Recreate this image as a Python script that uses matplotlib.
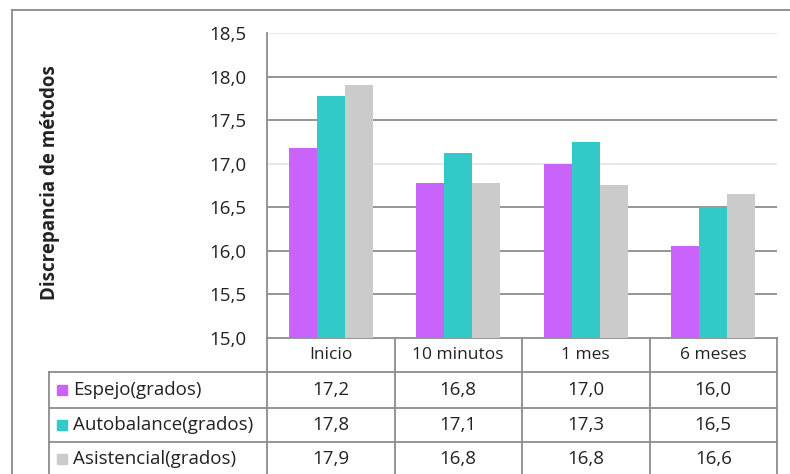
import matplotlib.pyplot as plt
import matplotlib.transforms as mtransforms
from matplotlib.lines import Line2D
from matplotlib.patches import Rectangle
import numpy as np

plt.rcParams['font.family'] = ['Open Sans', 'DejaVu Sans']

# Datos
momentos = ['Inicio', '10 minutos', '1 mes', '6 meses']
series = ['Espejo(grados)', 'Autobalance(grados)', 'Asistencial(grados)']
espejo = [17.18, 16.78, 17.0, 16.05]
autobalance = [17.78, 17.12, 17.25, 16.5]
asistencial = [17.9, 16.78, 16.75, 16.65]
tabla_espejo = ['17,2', '16,8', '17,0', '16,0']
tabla_autobalance = ['17,8', '17,1', '17,3', '16,5']
tabla_asistencial = ['17,9', '16,8', '16,8', '16,6']
yticks = [15.0, 15.5, 16.0, 16.5, 17.0, 17.5, 18.0, 18.5]
ytick_labels = ['15,0', '15,5', '16,0', '16,5', '17,0', '17,5', '18,0', '18,5']

colores = ['#c864fc', '#33c9c9', '#cbcbcb']
W, H = 790, 474
fs = 13.5

fig = plt.figure(figsize=(W / 100, H / 100), dpi=100)
fig.patch.set_facecolor('white')

# marco exterior
fig.add_artist(Line2D([12 / W, 1.0], [1 - 10 / H, 1 - 10 / H], transform=fig.transFigure,
                      color='#8a8a8a', lw=1.3))
fig.add_artist(Line2D([12 / W, 12 / W], [1 - 10 / H, 0], transform=fig.transFigure,
                      color='#8a8a8a', lw=1.3))

ax = fig.add_axes([267 / W, (H - 338) / H, 510 / W, 305 / H])
x = np.arange(len(momentos))
ancho = 0.22
for i, vals in enumerate([espejo, autobalance, asistencial]):
    ax.bar(x + (i - 1) * ancho, [v - 15.0 for v in vals], bottom=15.0, width=ancho,
           color=colores[i], zorder=3)

ax.set_xlim(-0.5, len(momentos) - 0.5)
ax.set_ylim(15.0, 18.5)
ax.set_yticks(yticks)
ax.set_yticklabels(ytick_labels, fontsize=fs, color='#222222')
ax.tick_params(axis='y', length=0, pad=15)
ax.set_xticks([])
for yv in yticks[1:]:
    c = '#e6e6e6' if yv in (17.0, 18.5) else '#8c8c8c'
    ax.axhline(yv, color=c, lw=1.3, zorder=1)
for s in ['top', 'right']:
    ax.spines[s].set_visible(False)
ax.spines['left'].set_color('#8c8c8c')
ax.spines['bottom'].set_color('#8c8c8c')
ax.spines['left'].set_linewidth(1.3)
ax.spines['bottom'].set_linewidth(1.3)

fig.text(50 / W, 1 - 183 / H, 'Discrepancia de métodos', rotation=90, ha='center',
         va='center', fontsize=13.5, fontweight='bold', color='#222222')

# tabla de datos
tr = mtransforms.blended_transform_factory(ax.transData, fig.transFigure)
izq = -0.5 - (267 - 49) / 127.5
der = len(momentos) - 0.5
lc = '#8c8c8c'


def fy(p):
    return 1 - p / H


filas_y = [372, 408, 442]
for py in filas_y:
    fig.add_artist(Line2D([izq, der], [fy(py), fy(py)], transform=tr, color=lc, lw=1.3))
fig.add_artist(Line2D([izq, izq], [fy(372), 0], transform=tr, color=lc, lw=1.3))
for b in np.arange(len(momentos) + 1) - 0.5:
    fig.add_artist(Line2D([b, b], [fy(338), 0], transform=tr, color=lc, lw=1.3))

for j, m in enumerate(momentos):
    fig.text(x[j], fy(355), m, transform=tr, ha='center', va='center', fontsize=12.5,
             color='#222222')

centros = [390, 425, 459]
for i, (nombre, etiquetas) in enumerate(zip(series, [tabla_espejo, tabla_autobalance,
                                                      tabla_asistencial])):
    cy = fy(centros[i])
    fig.add_artist(Rectangle((57 / W, cy - 5 / H), 10 / W, 10 / H, transform=fig.transFigure,
                             color=colores[i]))
    fig.text(73 / W, cy, nombre, ha='left', va='center', fontsize=fs, color='#222222')
    for j, t in enumerate(etiquetas):
        fig.text(x[j], cy, t, transform=tr, ha='center', va='center', fontsize=fs,
                 color='#222222')

fig.savefig('out.png', dpi=100)
